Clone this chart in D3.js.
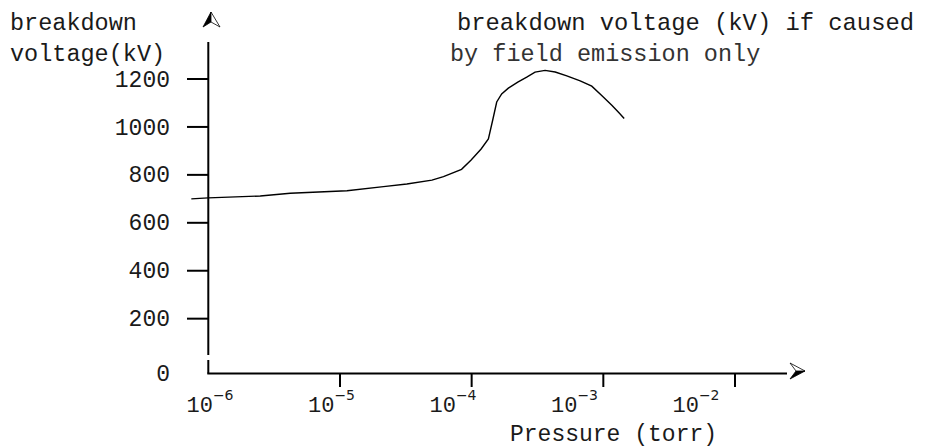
<!DOCTYPE html>
<html>
<head>
<meta charset="utf-8">
<script src="https://d3js.org/d3.v7.min.js"></script>
<style>
    body { margin: 0; background: #fff; }
    text { font-family: "Liberation Mono", "Courier New", monospace; fill: #1a1a1a; }
</style>
</head>
<body>
<svg width="927" height="448"></svg>
<script>
    // pressure (torr) and breakdown voltage (kV)
    var pressure = [7.43e-7, 1.0e-6, 2.48e-6, 4.19e-6, 1.13e-5, 2.14e-5, 3.22e-5, 4.99e-5, 6.11e-5, 8.38e-5,
        9.91e-5, 1.18e-4, 1.34e-4, 1.45e-4, 1.55e-4, 1.69e-4, 1.90e-4, 2.24e-4, 2.62e-4, 3.03e-4,
        3.61e-4, 4.31e-4, 5.28e-4, 6.67e-4, 8.17e-4, 9.72e-4, 1.16e-3, 1.32e-3, 1.44e-3];
    var voltage = [700, 704, 712, 723, 734, 751, 762, 778, 793, 823,
        862, 908, 950, 1032, 1104, 1138, 1162, 1187, 1208, 1229,
        1236, 1229, 1213, 1192, 1170, 1131, 1090, 1058, 1035];
    var yTicks = [200, 400, 600, 800, 1000, 1200];
    var xTicks = [1e-6, 1e-5, 1e-4, 1e-3, 1e-2];
    var xExponents = ['-6', '-5', '-4', '-3', '-2'];

    var svg = d3.select('svg');
    var axisX = 208.3, axisY = 373.5;

    var x = d3.scaleLog().domain([1e-6, 1e-2]).range([axisX, 735]);
    // the decade labels sit on a slightly tighter spacing than the ticks
    var xLabel = d3.scaleLog().domain([1e-6, 1e-2]).range([210, 696]);
    var y = d3.scaleLinear().domain([0, 1200]).range([366.6, 79]);

    // y axis with small break near the bottom
    svg.append('line').attr('x1', axisX).attr('x2', axisX).attr('y1', 42).attr('y2', 355)
        .attr('stroke', '#000').attr('stroke-width', 2);
    svg.append('line').attr('x1', axisX).attr('x2', axisX).attr('y1', 360).attr('y2', axisY)
        .attr('stroke', '#000').attr('stroke-width', 2);
    // x axis
    svg.append('line').attr('x1', axisX - 1).attr('x2', 787).attr('y1', axisY).attr('y2', axisY)
        .attr('stroke', '#000').attr('stroke-width', 2);

    // arrows: half filled, half outlined
    svg.append('path').attr('d', 'M211,12 L203,27 L211,22 Z').attr('fill', '#000').attr('stroke', '#000').attr('stroke-width', 0.8);
    svg.append('path').attr('d', 'M211,12 L220,27 L211,22 Z').attr('fill', '#fff').attr('stroke', '#000').attr('stroke-width', 0.8);
    svg.append('path').attr('d', 'M805,371 L790,379 L796,371 Z').attr('fill', '#000').attr('stroke', '#000').attr('stroke-width', 0.8);
    svg.append('path').attr('d', 'M805,371 L790,363 L796,371 Z').attr('fill', '#fff').attr('stroke', '#000').attr('stroke-width', 0.8);

    // y ticks
    svg.selectAll('.ytick').data(yTicks).enter().append('line')
        .attr('x1', 187).attr('x2', axisX)
        .attr('y1', function (d) { return y(d); }).attr('y2', function (d) { return y(d); })
        .attr('stroke', '#000').attr('stroke-width', 2);
    svg.selectAll('.ylab').data([0].concat(yTicks)).enter().append('text')
        .attr('x', 170)
        .attr('y', function (d) { return d == 0 ? axisY : y(d); })
        .attr('dy', '0.33em')
        .attr('text-anchor', 'end')
        .style('font-size', '23px')
        .text(function (d) { return d; });

    // x ticks
    svg.selectAll('.xtick').data(xTicks.slice(1)).enter().append('line')
        .attr('x1', function (d) { return x(d); }).attr('x2', function (d) { return x(d); })
        .attr('y1', axisY).attr('y2', 387)
        .attr('stroke', '#000').attr('stroke-width', 2);
    var xl = svg.selectAll('.xlab').data(xTicks).enter().append('text')
        .attr('x', function (d) { return xLabel(d); })
        .attr('y', 412)
        .attr('text-anchor', 'middle')
        .style('font-size', '22px');
    xl.append('tspan').text('10');
    xl.append('tspan').attr('dy', -12).style('font-size', '14px')
        .style('font-family', '"DejaVu Sans", sans-serif')
        .text(function (d, i) { return xExponents[i].replace('-', '\u2212'); });

    // curve
    var pts = pressure.map(function (p, i) { return [p, voltage[i]]; });
    svg.append('path')
        .datum(pts)
        .attr('fill', 'none')
        .attr('stroke', '#000')
        .attr('stroke-width', 1.4)
        .attr('d', d3.line().x(function (d) { return x(d[0]); }).y(function (d) { return y(d[1]); }));

    // titles
    svg.append('text').attr('x', 10).attr('y', 30).style('font-size', '23.5px').text('breakdown');
    svg.append('text').attr('x', 10).attr('y', 61).style('font-size', '23.5px').text('voltage(kV)');
    svg.append('text').attr('x', 457).attr('y', 30).style('font-size', '23.8px').text('breakdown voltage (kV) if caused');
    svg.append('text').attr('x', 450).attr('y', 61).style('font-size', '23.5px').style('fill', '#333').text('by field emission only');
    svg.append('text').attr('x', 510).attr('y', 441).style('font-size', '23px').text('Pressure (torr)');
</script>
</body>
</html>
